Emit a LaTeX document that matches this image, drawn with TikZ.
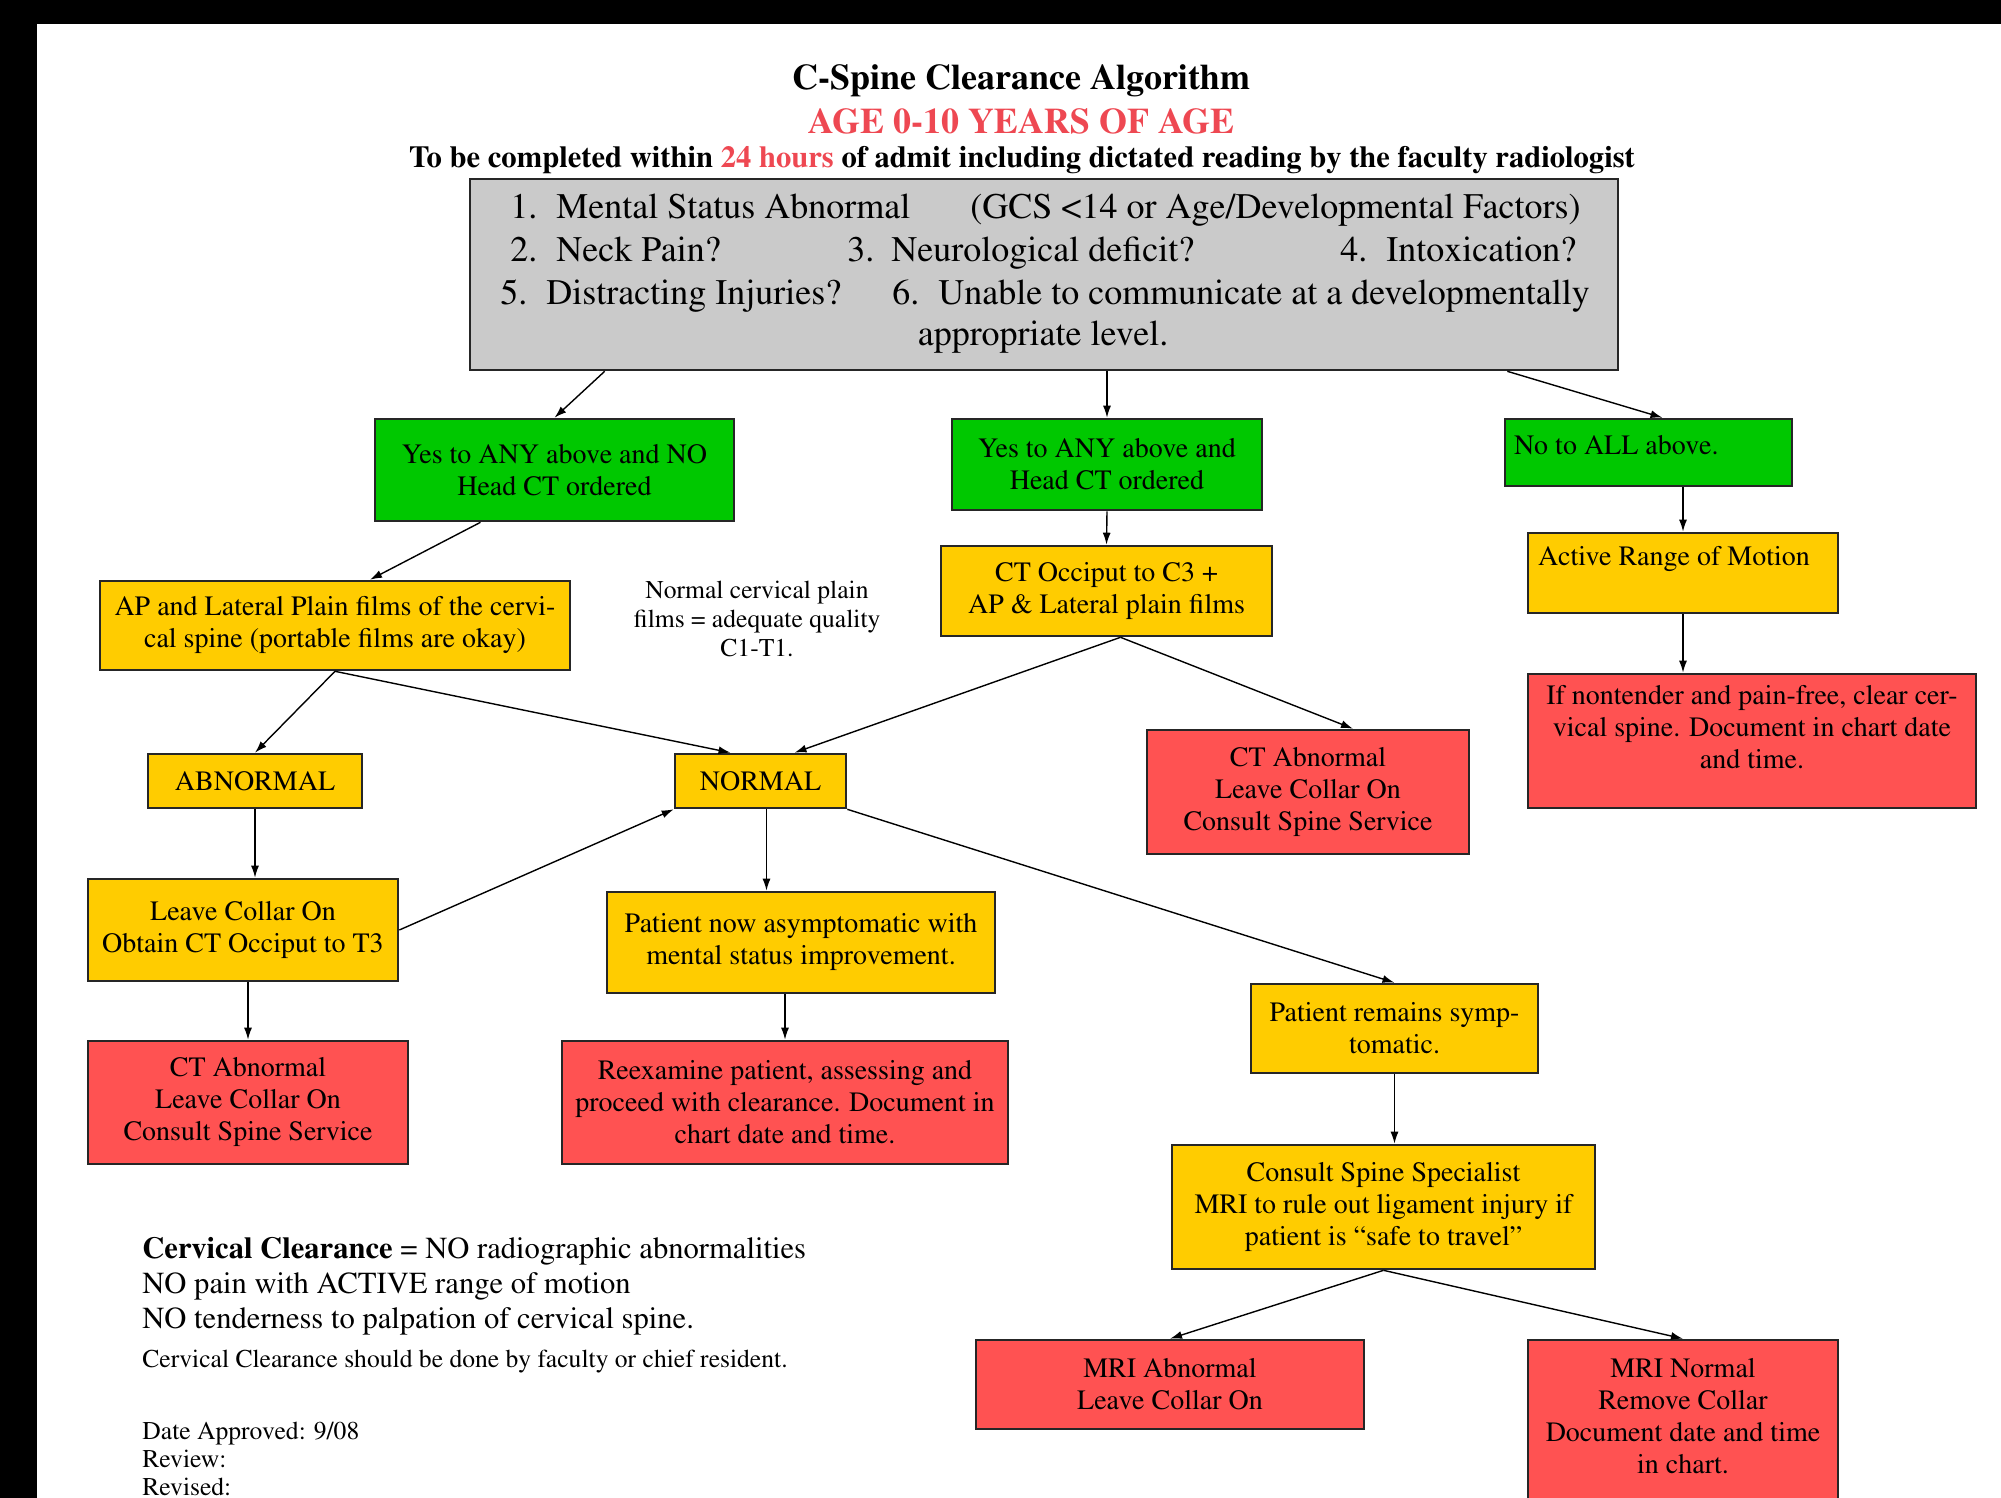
\documentclass[tikz,border=0pt]{standalone}
\usepackage[T1]{fontenc}
\renewcommand{\rmdefault}{ptm}
\usepackage{xcolor}
\usetikzlibrary{arrows.meta,positioning}
\definecolor{boxgreen}{RGB}{0,200,0}
\definecolor{boxyellow}{RGB}{255,204,0}
\definecolor{boxred}{RGB}{255,82,82}
\definecolor{boxgray}{RGB}{202,202,202}
\definecolor{titlered}{RGB}{238,72,82}

\begin{document}
\begin{tikzpicture}[x=0.5pt,y=-0.5pt,>={Latex[length=6pt,width=4pt]},
	box/.style={draw=black!85,line width=1.3pt,align=center,inner sep=1pt,font=\fontsize{14pt}{16pt}\selectfont},
	gbox/.style={box,fill=boxgreen},
	ybox/.style={box,fill=boxyellow},
	rbox/.style={box,fill=boxred},
	arr/.style={->,line width=0.7pt},
	gitem/.style={anchor=base west,inner sep=0pt,font=\fontsize{18pt}{21pt}\selectfont},
	plaintext/.style={anchor=west,inner sep=0pt,align=left}]
	\useasboundingbox (0,0) rectangle (2001,1498);
	\fill[black] (0,0) rectangle (2001,24);
	\fill[black] (0,0) rectangle (37,1498);

	% headings
	\node[font=\fontsize{18pt}{20pt}\selectfont\bfseries] (title) at (1021,81) {C-Spine Clearance Algorithm};
	\node[font=\fontsize{18pt}{20pt}\selectfont\bfseries,text=titlered] (age) at (1021,121) {AGE 0-10 YEARS OF AGE};
	\node[font=\fontsize{15.3pt}{17pt}\selectfont\bfseries] (sub) at (1022,160) {To be completed within \textcolor{titlered}{24 hours} of admit including dictated reading by the faculty radiologist};

	% criteria box
	\node[box,fill=boxgray,minimum width=574pt,minimum height=95.5pt] (crit) at (1044,274.5) {};
	\node[gitem] (c1) at (510,219) {\makebox[23pt][l]{1.}Mental Status Abnormal};
	\node[gitem] (c1b) at (970,219) {(GCS <14 or Age/Developmental Factors)};
	\node[gitem] (c2) at (510,262) {\makebox[23pt][l]{2.}Neck Pain?};
	\node[gitem] (c3) at (847,262) {\makebox[22pt][l]{3.}Neurological deficit?};
	\node[gitem] (c4) at (1340,262) {\makebox[23pt][l]{4.}Intoxication?};
	\node[gitem] (c5) at (500,304) {\makebox[23pt][l]{5.}Distracting Injuries?};
	\node[gitem] (c6) at (892,304) {\makebox[23pt][l]{6.}Unable to communicate at a developmentally};
	\node[gitem,anchor=base] (c6b) at (1043,345) {appropriate level.};

	% first row
	\node[gbox,minimum width=179.5pt,minimum height=51pt] (yesno) at (554.5,470) {Yes to ANY above and NO\\Head CT ordered};
	\node[gbox,minimum width=155pt,minimum height=45.5pt] (yeshead) at (1107,464.5) {Yes to ANY above and\\Head CT ordered};
	\node[gbox,minimum width=143.5pt,minimum height=33.5pt] (noall) at (1648.5,452.5) {\raisebox{3.75pt}[\height][\depth]{\makebox[134.5pt][l]{No to ALL above.}}};

	% second row
	\node[ybox,minimum width=235pt,minimum height=44.5pt] (plain) at (335,625.5) {AP and Lateral Plain films of the cervi-\\cal spine (portable films are okay)};
	\node[align=center,inner sep=0pt,font=\fontsize{12.8pt}{14.5pt}\selectfont] (note) at (757,619) {Normal cervical plain\\films = adequate quality\\C1-T1.};
	\node[ybox,minimum width=165.5pt,minimum height=45pt] (ctocc) at (1106.5,591) {CT Occiput to C3 +\\AP \& Lateral plain films};
	\node[ybox,minimum width=155pt,minimum height=40pt] (arom) at (1683,573) {\raisebox{7pt}[\height][\depth]{\makebox[145pt][l]{Active Range of Motion}}};
	\node[rbox,minimum width=224pt,minimum height=67pt] (clear) at (1752,741) {\raisebox{5.5pt}[\height][\depth]{\begin{tabular}{@{}c@{}}If nontender and pain-free, clear cer-\\vical spine. Document in chart date\\and time.\end{tabular}}};

	% third row
	\node[ybox,minimum width=107pt,minimum height=27pt] (abn) at (255,781) {ABNORMAL};
	\node[ybox,minimum width=85.5pt,minimum height=27pt] (nrm) at (760.5,781) {NORMAL};
	\node[rbox,minimum width=161pt,minimum height=62pt] (ctabn) at (1308,792) {CT Abnormal\\Leave Collar On\\Consult Spine Service};

	% fourth row
	\node[ybox,minimum width=155pt,minimum height=51pt] (collar) at (243,930) {Leave Collar On\\Obtain CT Occiput to T3};
	\node[ybox,minimum width=194pt,minimum height=50.5pt] (asym) at (801,942.5) {Patient now asymptomatic with\\mental status improvement.};
	\node[ybox,minimum width=143.5pt,minimum height=44.5pt] (symp) at (1394.5,1028.5) {Patient remains symp-\\tomatic.};

	% fifth row
	\node[rbox,minimum width=160pt,minimum height=61.5pt] (ctabn2) at (248,1102.5) {CT Abnormal\\Leave Collar On\\Consult Spine Service};
	\node[rbox,minimum width=223pt,minimum height=61.5pt] (rexam) at (785,1102.5) {Reexamine patient, assessing and\\proceed with clearance. Document in\\chart date and time.};
	\node[ybox,minimum width=211.5pt,minimum height=62pt] (spec) at (1383.5,1207) {Consult Spine Specialist\\MRI to rule out ligament injury if\\patient is ``safe to travel''};

	% last row
	\node[rbox,minimum width=194pt,minimum height=44.5pt] (mriab) at (1170,1384.5) {MRI Abnormal\\Leave Collar On};
	\node[rbox,minimum width=155pt,minimum height=90pt] (mrino) at (1683,1430) {};
	\node[align=center,inner sep=0pt,font=\fontsize{14pt}{16pt}\selectfont] (mrinotext) at (1683,1416) {MRI Normal\\Remove Collar\\Document date and time\\in chart.};

	% notes
	\node[plaintext,font=\fontsize{15.3pt}{17.5pt}\selectfont] (cc) at (142,1286) {\textbf{Cervical Clearance} = NO radiographic abnormalities\\NO pain with ACTIVE range of motion\\NO tenderness to palpation of cervical spine.};
	\node[plaintext,font=\fontsize{12.8pt}{14pt}\selectfont] (who) at (142,1362) {Cervical Clearance should be done by faculty or chief resident.};
	\node[plaintext,font=\fontsize{12.8pt}{14pt}\selectfont] (dates) at (142,1459) {Date Approved: 9/08\\Review:\\Revised:};

	% connectors
	\draw[arr] ([xshift=68pt]crit.south west) -- (yesno.north);
	\draw[arr] (crit.south -| yeshead.north) -- (yeshead.north);
	\draw[arr] ([xshift=-56pt]crit.south east) -- ([xshift=7pt]noall.north);
	\draw[arr] ([xshift=-37pt]yesno.south) -- ([xshift=17.5pt]plain.north);
	\draw[arr] (yeshead.south) -- (ctocc.north);
	\draw[arr] (noall.south -| arom.north) -- (arom.north);
	\draw[arr] (arom.south) -- (arom.south |- clear.north);
	\draw[arr] (plain.south) -- (abn.north);
	\draw[arr] (plain.south) -- ([xshift=-15pt]nrm.north);
	\draw[arr] ([xshift=7pt]ctocc.south) -- ([xshift=17pt]nrm.north);
	\draw[arr] ([xshift=7pt]ctocc.south) -- ([xshift=22.5pt]ctabn.north);
	\draw[arr] (abn.south) -- (abn.south |- collar.north);
	\draw[arr] (collar.east) -- (nrm.south west);
	\draw[arr] ([xshift=3pt]nrm.south) -- ([xshift=3pt]nrm.south |- asym.north);
	\draw[arr] (nrm.south east) -- (symp.north);
	\draw[arr] (ctabn2.north |- collar.south) -- (ctabn2.north);
	\draw[arr] (rexam.north |- asym.south) -- (rexam.north);
	\draw[arr] (symp.south) -- (symp.south |- spec.north);
	\draw[arr] (spec.south) -- (mriab.north);
	\draw[arr] (spec.south) -- (mrino.north);
\end{tikzpicture}
\end{document}
